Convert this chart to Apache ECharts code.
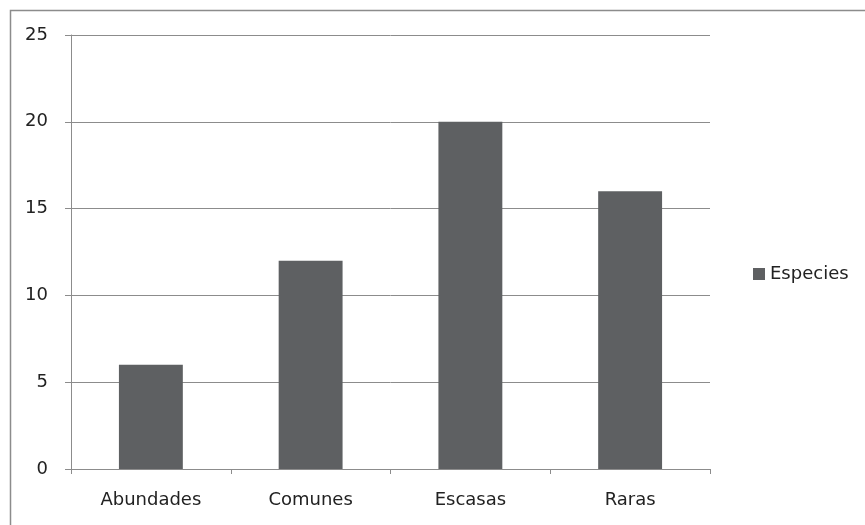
<!DOCTYPE html>
<html><head><meta charset="utf-8">
<script src="https://cdn.jsdelivr.net/npm/echarts@6/dist/echarts.min.js"></script>
<style>html,body{margin:0;padding:0;background:#fff}#c{width:865px;height:525px}</style>
</head><body><div id="c"></div>
<script>
const categories = ['Abundades', 'Comunes', 'Escasas', 'Raras'];
const especies = [6, 12, 20, 16];
const seriesName = 'Especies';

const chart = echarts.init(document.getElementById('c'));
chart.setOption({
  animation: false,
  textStyle: { fontFamily: 'DejaVu Sans, sans-serif' },
  graphic: [{
    type: 'rect', shape: { x: 10.5, y: 10.5, width: 870, height: 530 },
    style: { fill: 'none', stroke: '#8c8c8c', lineWidth: 1.5 }, silent: true
  }],
  legend: {
    data: [seriesName], orient: 'vertical', left: 748, top: 260,
    icon: 'rect', itemWidth: 12, itemHeight: 12, itemGap: 5,
    textStyle: { fontSize: 18, color: '#222' }
  },
  grid: { left: 71, right: 155, top: 35, bottom: 56, containLabel: false },
  xAxis: {
    type: 'category', data: categories,
    axisLine: { lineStyle: { color: '#8c8c8c', width: 1 } },
    axisTick: { show: true, alignWithLabel: false, length: 5, lineStyle: { color: '#8c8c8c' } },
    axisLabel: { fontSize: 18, color: '#222', margin: 22 }
  },
  yAxis: {
    type: 'value', min: 0, max: 25, interval: 5,
    axisLine: { show: true, lineStyle: { color: '#8c8c8c', width: 1 } },
    axisTick: { show: true, length: 6, lineStyle: { color: '#8c8c8c' } },
    splitLine: { lineStyle: { color: '#8c8c8c', width: 1 } },
    axisLabel: { fontSize: 18, color: '#222', margin: 23 }
  },
  series: [{
    name: seriesName, type: 'bar', data: especies, barWidth: '40%',
    itemStyle: { color: '#5e6062' }
  }]
});
</script></body></html>
